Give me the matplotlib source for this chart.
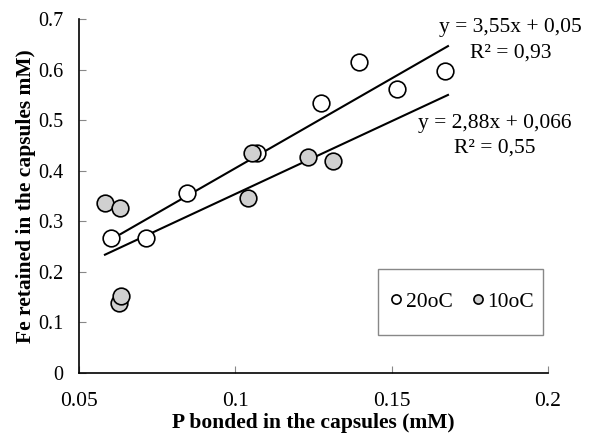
import numpy as np
import matplotlib.pyplot as plt
from matplotlib.patches import Rectangle

# Data
x_20 = [0.0602, 0.0714, 0.0845, 0.1069, 0.1274, 0.1395, 0.1516, 0.1671]
y_20 = [0.267, 0.267, 0.356, 0.435, 0.534, 0.615, 0.562, 0.597]

x_10 = [0.0583, 0.0631, 0.0627, 0.0634, 0.1040, 0.1053, 0.1232, 0.1311]
y_10 = [0.336, 0.326, 0.138, 0.152, 0.346, 0.435, 0.427, 0.419]

# Trendlines (from the chart equations)
fit_20 = (3.55, 0.05)
fit_10 = (2.88, 0.066)
fit_range = [0.0583, 0.168]

plt.rcParams['font.family'] = ['Liberation Serif', 'DejaVu Serif']

fig = plt.figure(figsize=(5.97, 4.38), dpi=100)
ax = fig.add_axes([0.1323, 0.1484, 0.918 - 0.1323, 0.9566 - 0.1484])

xs = np.array(fit_range)
ax.plot(xs, fit_20[0] * xs + fit_20[1], color='black', lw=1.5, zorder=2)
ax.plot(xs, fit_10[0] * xs + fit_10[1], color='black', lw=1.5, zorder=2)

ax.plot(x_20, y_20, 'o', ms=12, mfc='white', mec='black', mew=1.2,
        label='20oC', zorder=3)
ax.plot(x_10, y_10, 'o', ms=12, mfc='#d0d0d0', mec='black', mew=1.2,
        label='10oC', zorder=3)

ax.set_xlim(0.05, 0.2)
ax.set_ylim(0, 0.7)
ax.set_xticks([0.05, 0.1, 0.15, 0.2])
ax.set_xticklabels(['0.05', '0.1', '0.15', '0.2'])
ax.set_yticks([0, 0.1, 0.2, 0.3, 0.4, 0.5, 0.6, 0.7])
ax.set_yticklabels(['0', '0.1', '0.2', '0.3', '0.4', '0.5', '0.6', '0.7'])
ax.tick_params(axis='both', direction='in', length=5, width=0.8,
               color='#888888')
ax.tick_params(axis='x', pad=14, labelsize=15.5)
ax.tick_params(axis='y', pad=11, labelsize=14.5)

for s in ['top', 'right']:
    ax.spines[s].set_visible(False)
for s in ['left', 'bottom']:
    ax.spines[s].set_linewidth(1.2)

ax.set_xlabel('P bonded in the capsules (mM)', fontsize=15.5, fontweight='bold',
              labelpad=1)
ax.set_ylabel('Fe retained in the capsules mM)', fontsize=15.5, fontweight='bold',
              labelpad=2)

ax.text(0.188, 0.684, 'y = 3,55x + 0,05', fontsize=15.5, ha='center', va='center')
ax.text(0.188, 0.633, 'R² = 0,93', fontsize=15.5, ha='center', va='center')
ax.text(0.183, 0.494, 'y = 2,88x + 0,066', fontsize=15.5, ha='center', va='center')
ax.text(0.183, 0.445, 'R² = 0,55', fontsize=15.5, ha='center', va='center')

# legend box drawn separately, entries without frame
ax.add_patch(Rectangle((0.6375, 0.1073), 0.9893 - 0.6375, 0.2938 - 0.1073,
                       transform=ax.transAxes, fill=False, edgecolor='#888888',
                       lw=1.0, zorder=4))
leg = ax.legend(loc='center', bbox_to_anchor=(0.8188, 0.2006), ncol=2,
                markerscale=0.55, fontsize=15.5, frameon=False,
                handlelength=0.4, handletextpad=0.25, columnspacing=0.95,
                borderpad=0, borderaxespad=0)

fig.savefig('out.png', dpi=100)
